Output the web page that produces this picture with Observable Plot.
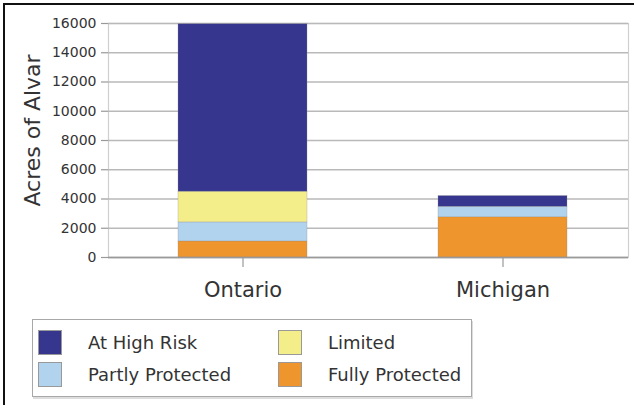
<!DOCTYPE html>
<html>
<head>
<meta charset="utf-8">
<script src="https://cdn.jsdelivr.net/npm/d3@7"></script>
<script src="https://cdn.jsdelivr.net/npm/@observablehq/plot@0.6"></script>
<style>
  html, body { margin: 0; padding: 0; background: #fff; }
  #wrap { position: relative; width: 634px; height: 415px; overflow: hidden; font-family: "DejaVu Sans", sans-serif; color: #333; }
  #border { position: absolute; left: 3px; top: 3px; width: 700px; height: 402px; border-left: 2px solid #111; border-top: 2px solid #111; box-sizing: border-box; pointer-events: none; }
  #chart { position: absolute; left: 0; top: 0; }
  #legend { position: absolute; left: 32px; top: 319px; width: 440px; height: 78px; border: 1.5px solid #a8a8a8; box-shadow: 1px 2px 0 #ddd; box-sizing: border-box; }
  .item { position: absolute; display: flex; align-items: center; font-size: 18px; color: #333; white-space: nowrap; }
  .sw { width: 24px; height: 25px; border: 1px solid #999; box-sizing: border-box; margin-right: 26px; }
</style>
</head>
<body>
<div id="wrap">
  <div id="chart"></div>
  <div id="legend"></div>
  <div id="border"></div>
</div>
<script>
// ---- data ----
const categories = ["Ontario", "Michigan"];
const seriesNames = ["Fully Protected", "Partly Protected", "Limited", "At High Risk"];
const fullyProtected = [1100, 2750];
const partlyProtected = [1300, 720];
const limited = [2100, 0];
const atHighRisk = [11450, 730];
const yTicks = [0, 2000, 4000, 6000, 8000, 10000, 12000, 14000, 16000];
const legendOrder = ["At High Risk", "Limited", "Partly Protected", "Fully Protected"];
const yLabel = "Acres of Alvar";

// ---- styles ----
const colors = {
  "At High Risk": "#36368e",
  "Limited": "#f4ee8a",
  "Partly Protected": "#b2d3ee",
  "Fully Protected": "#ee952e"
};

const seriesValues = [fullyProtected, partlyProtected, limited, atHighRisk];
const rows = [];
seriesNames.forEach((s, si) => {
  categories.forEach((c, ci) => {
    rows.push({category: c, series: s, value: seriesValues[si][ci]});
  });
});

const chart = Plot.plot({
  width: 634,
  height: 312,
  marginTop: 23,
  marginBottom: 55,
  marginLeft: 108,
  marginRight: 6,
  style: {fontFamily: "DejaVu Sans, sans-serif", color: "#333", background: "transparent"},
  x: {domain: categories, paddingInner: 0.5038, paddingOuter: 0.2519, align: 0.534, label: null},
  y: {domain: [0, 16000], label: null},
  color: {domain: seriesNames, range: seriesNames.map(s => colors[s])},
  marks: [
    Plot.frame({stroke: "#cfcfcf", strokeWidth: 1.2}),
    Plot.ruleY(yTicks, {stroke: "#b9b9b9", strokeWidth: 1.6}),
    Plot.barY(rows, {x: "category", y: "value", fill: "series", stroke: "#8a8a8a", strokeWidth: 0.5, strokeOpacity: 0.6}),
    Plot.axisY({ticks: yTicks, tickFormat: d => String(d), tickSize: 7, tickPadding: 5, fontSize: 14, stroke: "#999", strokeWidth: 1.2, label: null}),
    Plot.axisX({tickSize: 10, tickPadding: 15, fontSize: 21, stroke: "#999", strokeWidth: 1.2, label: null}),
    Plot.ruleY([0], {stroke: "#999", strokeWidth: 1.5}),
    Plot.text([yLabel], {frameAnchor: "left", textAnchor: "middle", dx: -76, dy: -10, rotate: -90, fontSize: 22, fill: "#333", text: d => d})
  ]
});
document.getElementById("chart").appendChild(chart);

// legend
const legend = document.getElementById("legend");
const pos = [
  {left: 5, top: 10}, {left: 245, top: 10},
  {left: 5, top: 42}, {left: 245, top: 42}
];
legendOrder.forEach((name, i) => {
  const it = document.createElement("div");
  it.className = "item";
  it.style.left = pos[i].left + "px";
  it.style.top = pos[i].top + "px";
  const sw = document.createElement("div");
  sw.className = "sw";
  sw.style.background = colors[name];
  const lab = document.createElement("span");
  lab.textContent = name;
  it.appendChild(sw);
  it.appendChild(lab);
  legend.appendChild(it);
});
</script>
</body>
</html>
